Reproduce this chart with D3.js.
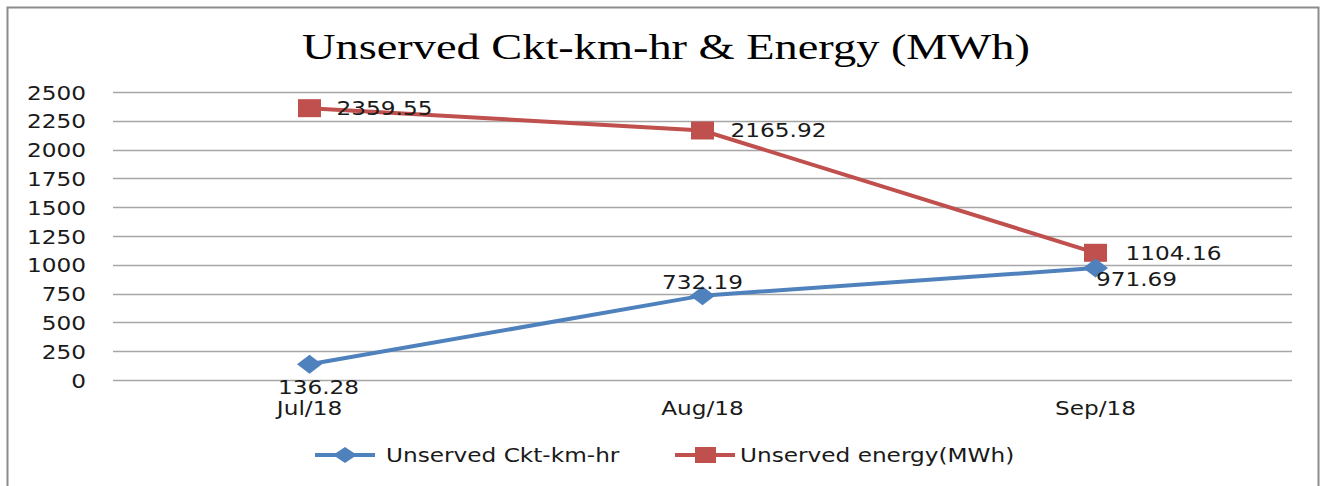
<!DOCTYPE html>
<html>
<head>
    <title>Unserved Ckt-km-hr & Energy</title>
    <style>
        body { margin: 0; background: #fff; }
        text { font-family: "DejaVu Sans", Verdana, sans-serif; fill: #1a1a1a; }
    </style>
</head>
<body>
    <script type='text/javascript' src='https://d3js.org/d3.v7.min.js'></script>
    <div id="chart"></div>
    <script>
        // data
        var months = ["Jul/18", "Aug/18", "Sep/18"];
        var ckt = [136.28, 732.19, 971.69];       // Unserved Ckt-km-hr
        var energy = [2359.55, 2165.92, 1104.16]; // Unserved energy(MWh)
        var yTicks = [0, 250, 500, 750, 1000, 1250, 1500, 1750, 2000, 2250, 2500];
        var seriesNames = ["Unserved Ckt-km-hr", "Unserved energy(MWh)"];

        var width = 1324, height = 486;
        var sx = 1.19; // the original picture is stretched sideways
        var blue = "#4f81bd", red = "#c0504d";

        var svg = d3.select("#chart").append("svg")
            .attr("width", width).attr("height", height);

        // outer frame
        svg.append("rect")
            .attr("x", 7.5).attr("y", 7.5)
            .attr("width", 1311).attr("height", 490)
            .attr("fill", "none").attr("stroke", "#8c8c8c").attr("stroke-width", 2);

        svg.append("text")
            .attr("x", 302).attr("y", 59)
            .attr("textLength", 728).attr("lengthAdjust", "spacingAndGlyphs")
            .style("font-family", "'Liberation Serif', 'Times New Roman', serif")
            .style("font-size", "36px")
            .style("fill", "#000")
            .text("Unserved Ckt-km-hr & Energy (MWh)");

        var plotL = 113, plotR = 1292, plotT = 92, plotB = 380;

        var x = d3.scaleBand().domain(months).range([plotL, plotR]);
        var y = d3.scaleLinear().domain([0, 2500]).range([plotB, plotT]);

        // grid lines
        svg.append("g").selectAll("line")
            .data(yTicks)
            .enter().append("line")
            .attr("x1", plotL).attr("x2", plotR)
            .attr("y1", d => Math.round(y(d)) + 0.5).attr("y2", d => Math.round(y(d)) + 0.5)
            .attr("stroke", "#a6a6a6").attr("stroke-width", 1.3);

        var yAxis = svg.append("g")
            .attr("transform", "translate(" + plotL + ",0)")
            .call(d3.axisLeft(y).tickValues(yTicks).tickFormat(d3.format("d")).tickSize(0));
        yAxis.select(".domain").remove();
        yAxis.selectAll(".tick text")
            .attr("x", -27 / sx).attr("dy", "0.36em")
            .attr("transform", "scale(" + sx + ",1)")
            .style("font-family", "'DejaVu Sans', Verdana, sans-serif")
            .style("font-size", "19.5px").style("fill", "#1a1a1a");

        var xAxis = svg.append("g")
            .attr("transform", "translate(0," + plotB + ")")
            .call(d3.axisBottom(x).tickSize(0));
        xAxis.select(".domain").remove();
        xAxis.selectAll(".tick text")
            .attr("x", 0).attr("y", 0).attr("dy", 35)
            .attr("transform", "scale(" + sx + ",1)")
            .style("font-family", "'DejaVu Sans', Verdana, sans-serif")
            .style("font-size", "19.5px").style("fill", "#1a1a1a");

        var cx = d => x(d) + x.bandwidth() / 2;
        var line = d3.line().x((d, i) => cx(months[i])).y(d => y(d));

        function label(px, py, txt, anchor) {
            svg.append("text")
                .attr("transform", "translate(" + px + "," + py + ") scale(" + sx + ",1)")
                .attr("text-anchor", anchor)
                .style("font-size", "19.5px")
                .text(txt);
        }

        // energy series
        svg.append("path").datum(energy)
            .attr("d", line).attr("fill", "none")
            .attr("stroke", red).attr("stroke-width", 4);
        svg.selectAll(".sq").data(energy).enter().append("rect")
            .attr("x", (d, i) => cx(months[i]) - 11.5).attr("y", d => y(d) - 9)
            .attr("width", 23).attr("height", 18).attr("fill", red);

        // ckt series
        svg.append("path").datum(ckt)
            .attr("d", line).attr("fill", "none")
            .attr("stroke", blue).attr("stroke-width", 4);
        svg.selectAll(".dm").data(ckt).enter().append("path")
            .attr("d", (d, i) => {
                var px = cx(months[i]), py = y(d);
                return "M" + (px - 12.5) + "," + py + "L" + px + "," + (py - 9.5) +
                    "L" + (px + 12.5) + "," + py + "L" + px + "," + (py + 9.5) + "Z";
            })
            .attr("fill", blue);

        // data labels (offsets as placed in the original)
        var energyLabelDx = [27, 28, 30];
        energy.forEach((v, i) => label(cx(months[i]) + energyLabelDx[i], y(v) + 7, v.toFixed(2), "start"));
        var cktLabelDx = [9, 0, 41], cktLabelDy = [30, -7, 18];
        ckt.forEach((v, i) => label(cx(months[i]) + cktLabelDx[i], y(v) + cktLabelDy[i], v.toFixed(2), "middle"));

        // legend
        var legY = 455;
        var leg1 = svg.append("g");
        leg1.append("line").attr("x1", 315).attr("x2", 375).attr("y1", legY).attr("y2", legY)
            .attr("stroke", blue).attr("stroke-width", 4);
        leg1.append("path")
            .attr("d", "M333," + legY + "L345," + (legY - 8) + "L357," + legY + "L345," + (legY + 8) + "Z")
            .attr("fill", blue);
        label(386, legY + 7, seriesNames[0], "start");

        var leg2 = svg.append("g");
        leg2.append("line").attr("x1", 675).attr("x2", 735).attr("y1", legY).attr("y2", legY)
            .attr("stroke", red).attr("stroke-width", 4);
        leg2.append("rect").attr("x", 695).attr("y", legY - 8).attr("width", 21).attr("height", 16)
            .attr("fill", red);
        label(740, legY + 7, seriesNames[1], "start");
    </script>
</body>
</html>
